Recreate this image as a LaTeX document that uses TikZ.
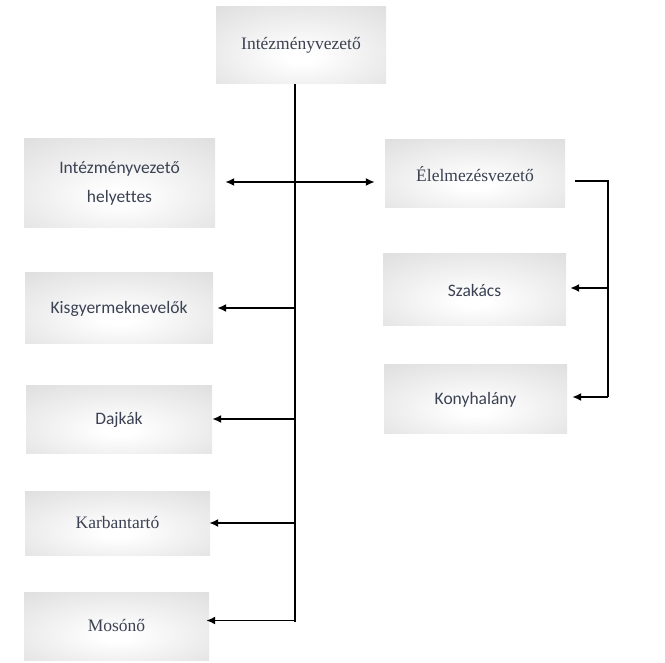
\documentclass[tikz,border=0pt]{standalone}
\usepackage{fontspec}
\setmainfont{Liberation Serif}
\newfontfamily\sansf[Ligatures=NoCommon]{Carlito}
\usetikzlibrary{arrows.meta}
\definecolor{textc}{HTML}{3A4253}
\pgfdeclareradialshading{boxshade}{\pgfpoint{0bp}{-8bp}}{color(0bp)=(white); color(4bp)=(white); color(45bp)=(gray!30); color(75bp)=(gray!32)}
\tikzset{
  orgbox/.style={shading=boxshade, draw=none, inner sep=0pt, text=textc, align=center,
    font=\fontsize{17.5}{29}\selectfont},
  sbox/.style={orgbox, font=\sansf\fontsize{17.5}{29}\selectfont},
  trunk/.style={line width=2.8pt},
  branch/.style={line width=1.7pt},
  arr/.style={branch, -{Latex[length=9pt,width=8pt]}},
}
\begin{document}
\begin{tikzpicture}[x=1pt,y=-1pt]
\useasboundingbox (0,0) rectangle (665,663);
\node[orgbox, minimum width=170pt, minimum height=77pt] (top) at (301,45.5) {Intézményvezető};
\node[sbox, minimum width=191pt, minimum height=89pt] (hely) at (119.5,183.5) {Intézményvezető\\helyettes};
\node[orgbox, minimum width=180pt, minimum height=68pt] (elelm) at (475,174) {Élelmezésvezető};
\node[sbox, minimum width=188pt, minimum height=71pt] (kisgy) at (119,308.5) {Kisgyermeknevelők};
\node[sbox, minimum width=183pt, minimum height=72pt] (szak) at (474.5,290) {Szakács};
\node[sbox, minimum width=183pt, minimum height=69pt] (konyha) at (475.5,399.5) {Konyhalány};
\node[sbox, minimum width=186pt, minimum height=68pt] (dajka) at (119,420) {Dajkák};
\node[orgbox, minimum width=185pt, minimum height=64pt] (karb) at (117.5,523) {Karbantartó};
\node[orgbox, minimum width=185pt, minimum height=68pt] (moso) at (116.5,626) {Mosónő};

% trunk
\coordinate (tb) at (295,622);
\coordinate (j1) at (295,182);
\coordinate (j2) at (295,308);
\coordinate (j3) at (295,419);
\coordinate (j4) at (295,523);
\coordinate (j5) at (295,620.5);
\draw[trunk] (tb |- top.south) -- (tb);
\draw[arr, shorten >=10pt] (j1) -- (j1 -| hely.east);
\draw[arr, shorten >=10pt] (j1) -- (j1 -| elelm.west);
\draw[arr, shorten >=4pt] (j2) -- (j2 -| kisgy.east);
\draw[arr, shorten >=0pt] (j3) -- (j3 -| dajka.east);
\draw[arr, shorten >=-1pt] (j4) -- (j4 -| karb.east);
\draw[arr, shorten >=-3pt] (j5) -- (j5 -| moso.east);

% right branch
\coordinate (r0) at (608,181);
\coordinate (r1) at (608,288);
\coordinate (r2) at (608,397);
\draw[branch] ([xshift=10pt]elelm.east |- r0) -- (r0) -- (r2);
\draw[arr, shorten >=4pt] (r1) -- (r1 -| szak.east);
\draw[arr, shorten >=5pt] (r2) -- (r2 -| konyha.east);
\end{tikzpicture}
\end{document}
